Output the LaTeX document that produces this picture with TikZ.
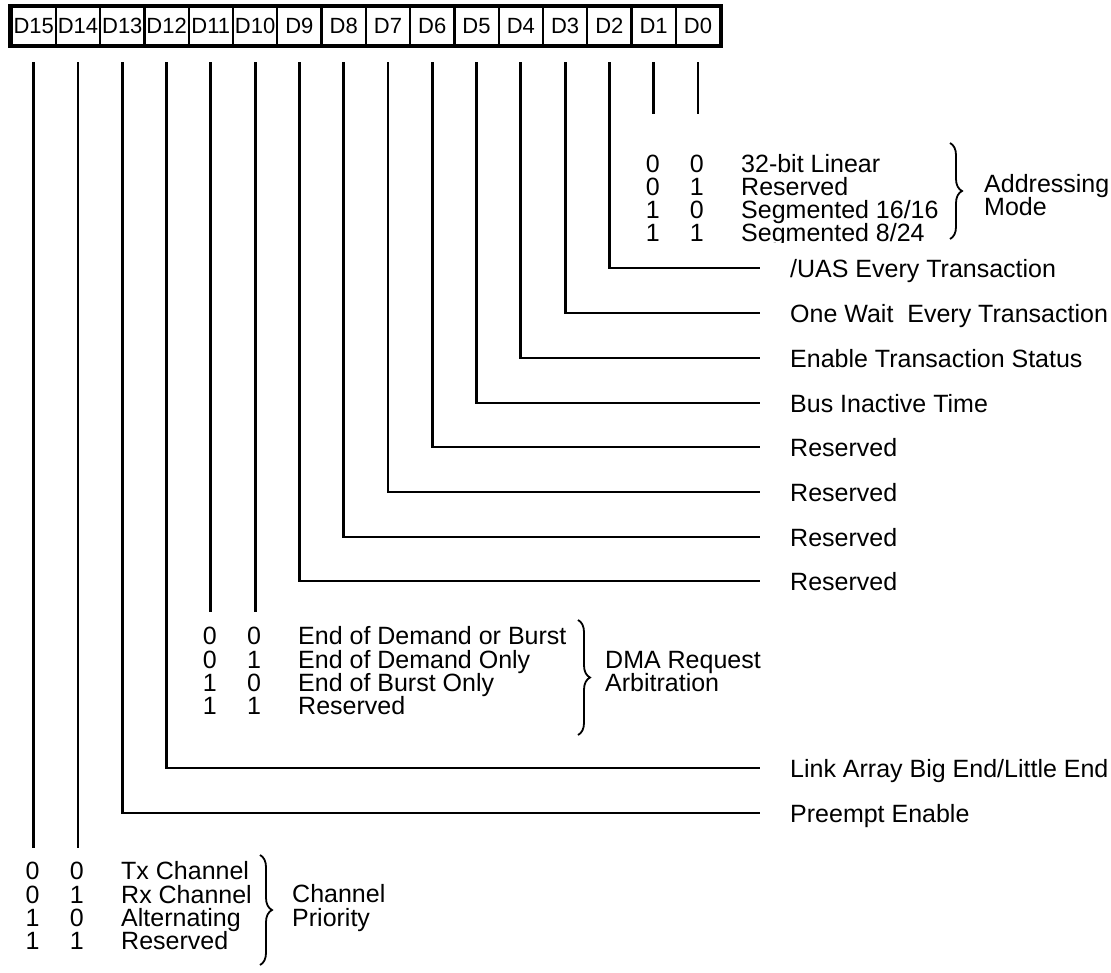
\documentclass[tikz,border=0pt]{standalone}
\usepackage{fontspec}
\setmainfont{Liberation Sans}
\usetikzlibrary{decorations.pathreplacing,calc}
\newcommand\tabrow[8]{%
  \node[bit] (#1a) at (#2,#5) {#6};
  \node[bit] (#1b) at (#3,#5) {#7};
  \node[lbl] (#1t) at (#4,#5) {#8};}
\begin{document}
\begin{tikzpicture}[x=1pt,y=-1pt,
  wire/.style={line width=2.8pt},
  lbl/.style={inner sep=0pt, anchor=west, text height=18pt, text depth=0pt, font=\fontsize{25}{29}\selectfont},
  bit/.style={inner sep=0pt, anchor=center, text height=18pt, text depth=0pt, font=\fontsize{25}{29}\selectfont},
  cell/.style={draw, line width=2.2pt, minimum width=44.28pt, minimum height=38pt, inner sep=0pt, anchor=north west, font=\fontsize{22}{26}\selectfont},
  brc/.style={decorate, decoration={brace, amplitude=12pt, aspect=0.5}, line width=1.8pt}
]
\useasboundingbox (0,0) rectangle (1111,972);
% register
\foreach \b in {15,...,0} {
  \node[cell] (c\b) at ({10.5+44.28*(15-\b)},6) {D\b};
}
\draw[line width=4.2pt] (c15.north west) rectangle (c0.south east);
\path (0,62) coordinate (top);
\foreach \b in {15,...,0} { \coordinate (t\b) at (c\b.south |- top); }
% labels on the right
\node[lbl] (l2) at (790,268) {/UAS Every Transaction};
\node[lbl] (l3) at (790,313) {One Wait~ Every Transaction};
\node[lbl] (l4) at (790,358) {Enable Transaction Status};
\node[lbl] (l5) at (790,403) {Bus Inactive Time};
\node[lbl] (l6) at (790,447) {Reserved};
\node[lbl] (l7) at (790,492) {Reserved};
\node[lbl] (l8) at (790,537) {Reserved};
\node[lbl] (l9) at (790,581) {Reserved};
\node[lbl] (l12) at (790,768) {Link Array Big End/Little End};
\node[lbl] (l13) at (790,813) {Preempt Enable};
\foreach \b in {2,3,4,5,6,7,8,9,12,13} {
  \draw[wire] (t\b) |- ([xshift=-30pt]l\b.west);
}
% short stems
\path (0,114) coordinate (ya) (0,612) coordinate (yd) (0,848) coordinate (yc);
\coordinate (e1) at (t1 |- ya); \coordinate (e0) at (t0 |- ya);
\coordinate (e11) at (t11 |- yd); \coordinate (e10) at (t10 |- yd);
\coordinate (e15) at (t15 |- yc); \coordinate (e14) at (t14 |- yc);
\foreach \b in {1,0,11,10,15,14} { \draw[wire] (t\b) -- (e\b); }
% addressing mode table
\begin{scope}
\clip (600,100) rectangle (945,242);
\tabrow{ar0}{652.7}{696.8}{741}{163}{0}{0}{32-bit Linear}
\tabrow{ar1}{652.7}{696.8}{741}{186}{0}{1}{Reserved}
\tabrow{ar2}{652.7}{696.8}{741}{209}{1}{0}{Segmented 16/16}
\tabrow{ar3}{652.7}{696.8}{741}{232}{1}{1}{Segmented 8/24}
\end{scope}
\draw[brc] (950,143) -- (950,239);
\node[lbl] (am1) at (984,183) {Addressing};
\node[lbl] (am2) at (984,206) {Mode};
% DMA table
\tabrow{dr0}{209.8}{254.1}{298}{635}{0}{0}{End of Demand or Burst}
\tabrow{dr1}{209.8}{254.1}{298}{659}{0}{1}{End of Demand Only}
\tabrow{dr2}{209.8}{254.1}{298}{682}{1}{0}{End of Burst Only}
\tabrow{dr3}{209.8}{254.1}{298}{705}{1}{1}{Reserved}
\draw[brc] (578,620) -- (578,735);
\node[lbl] (dm1) at (605,659) {DMA Request};
\node[lbl] (dm2) at (605,682) {Arbitration};
% channel table
\tabrow{cr0}{32.6}{76.9}{121}{870}{0}{0}{Tx Channel}
\tabrow{cr1}{32.6}{76.9}{121}{894}{0}{1}{Rx Channel}
\tabrow{cr2}{32.6}{76.9}{121}{917}{1}{0}{Alternating}
\tabrow{cr3}{32.6}{76.9}{121}{940}{1}{1}{Reserved}
\draw[brc] (260,855) -- (260,965);
\node[lbl] (cp1) at (292,893) {Channel};
\node[lbl] (cp2) at (292,917) {Priority};
\end{tikzpicture}
\end{document}
